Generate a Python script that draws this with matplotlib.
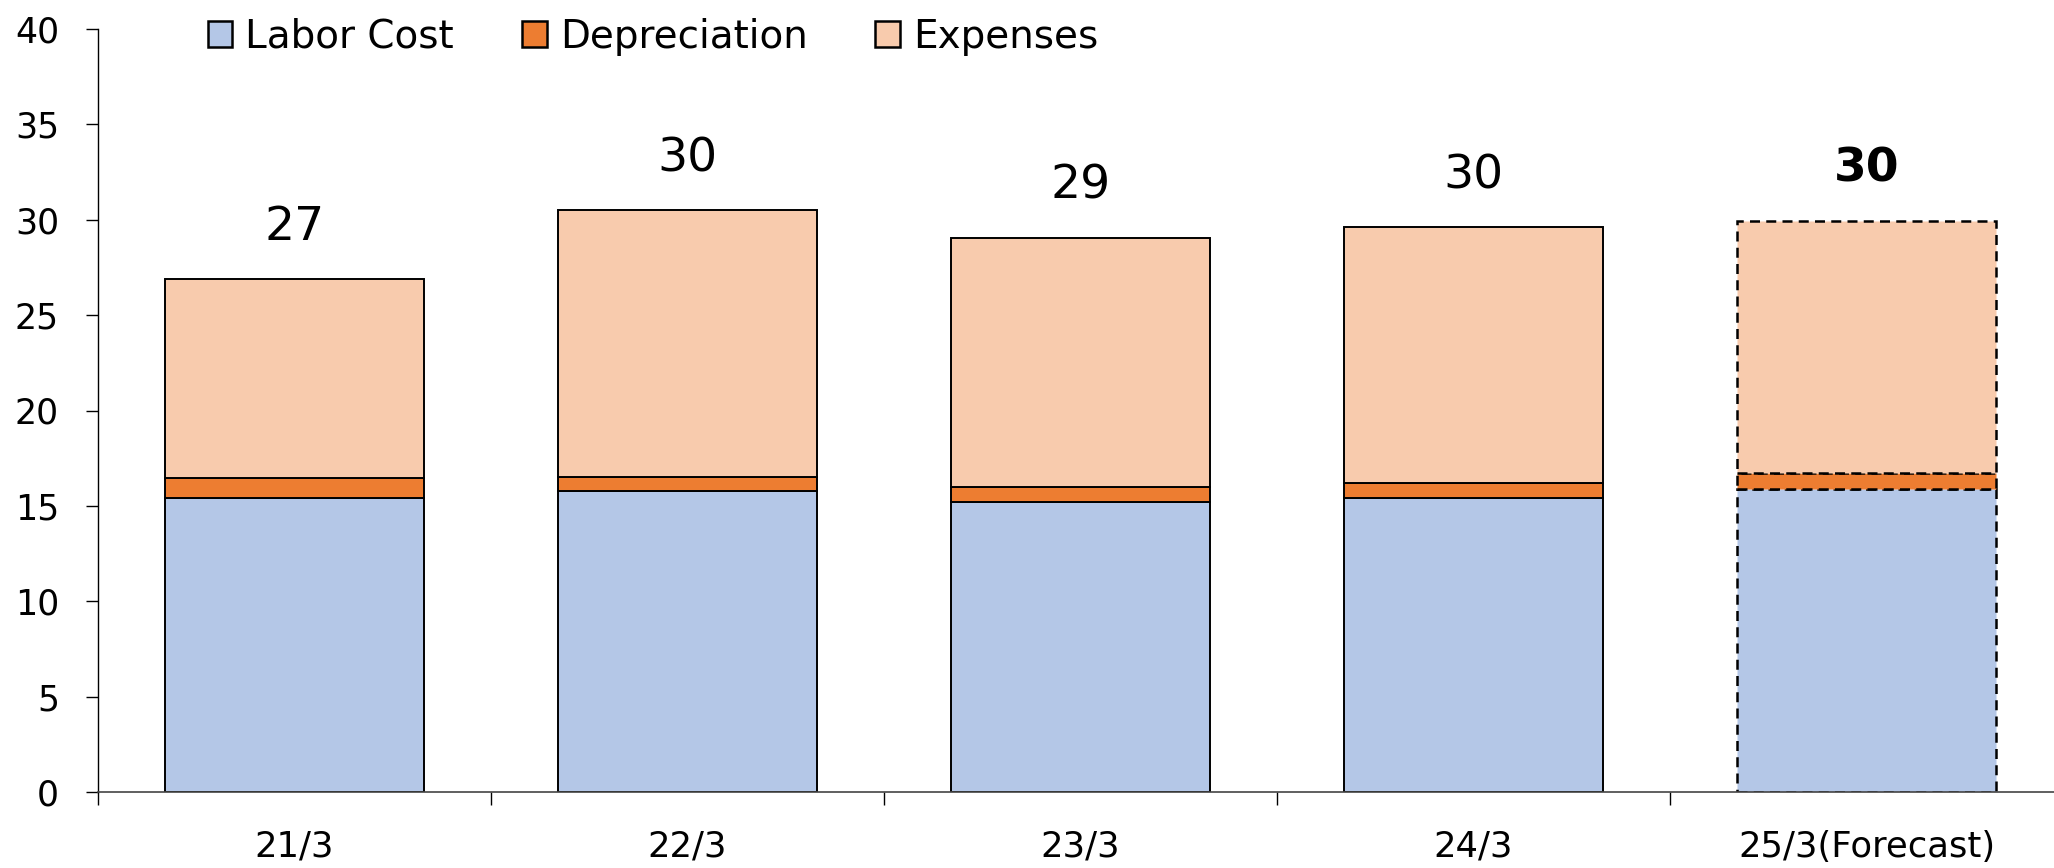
import matplotlib.pyplot as plt
import numpy as np

# values
categories = ['21/3', '22/3', '23/3', '24/3', '25/3(Forecast)']
labor_cost = [15.4, 15.8, 15.2, 15.4, 15.9]
depreciation = [1.05, 0.7, 0.8, 0.8, 0.8]
expenses = [10.45, 14.0, 13.05, 13.4, 13.25]
total_labels = ['27', '30', '29', '30', '30']

colors = {'Labor Cost': '#B4C7E7', 'Depreciation': '#ED7D31', 'Expenses': '#F8CBAD'}

fig = plt.figure(figsize=(20.54, 8.68), dpi=100)
ax = fig.add_axes([98 / 2054, 76 / 868, 1 - 98 / 2054, (792 - 29) / 868])

x = np.arange(len(categories))
width = 0.66
n = len(categories)
series = [('Labor Cost', labor_cost), ('Depreciation', depreciation), ('Expenses', expenses)]

bottom = np.zeros(n)
for name, vals in series:
    vals = np.array(vals)
    # actual years: solid edges
    ax.bar(x[:-1], vals[:-1], width, bottom=bottom[:-1], color=colors[name],
           edgecolor='black', linewidth=1.4, label=name)
    # forecast: dashed edges
    ax.bar(x[-1:], vals[-1:], width, bottom=bottom[-1:], color=colors[name],
           edgecolor='black', linewidth=1.8, linestyle=(0, (4, 2.5)))
    bottom += vals

# total labels above bars
for i, (tot, lab) in enumerate(zip(bottom, total_labels)):
    ax.annotate(lab, (x[i], tot), xytext=(0, 28), textcoords='offset points',
                ha='center', va='baseline', fontsize=34,
                fontweight='bold' if i == n - 1 else 'normal')

ax.set_ylim(0, 40)
ax.set_yticks(range(0, 41, 5))
ax.set_xlim(-0.5, -0.5 + 1956 / 393)

ax.set_xticks(x)
ax.set_xticklabels(categories)
ax.set_xticks(np.arange(n) - 0.5, minor=True)
ax.tick_params(axis='x', which='major', length=0, pad=27, labelsize=25.5)
ax.tick_params(axis='x', which='minor', length=9, width=1, direction='out')
ax.tick_params(axis='y', length=9, width=1, pad=19, labelsize=25)

for s in ['top', 'right']:
    ax.spines[s].set_visible(False)
ax.spines['left'].set_linewidth(1)
ax.spines['bottom'].set_linewidth(1.2)
ax.spines['bottom'].set_color('#444444')

leg = ax.legend(loc='upper left', bbox_to_anchor=(94 / 1956, 1.035), ncol=3,
                frameon=False, fontsize=28, handlelength=0.64, handleheight=0.64,
                handletextpad=0.33, columnspacing=1.75, borderaxespad=0)
for h in leg.legend_handles:
    h.set_linewidth(1.8)

fig.savefig('out.png', dpi=100, facecolor='white')
